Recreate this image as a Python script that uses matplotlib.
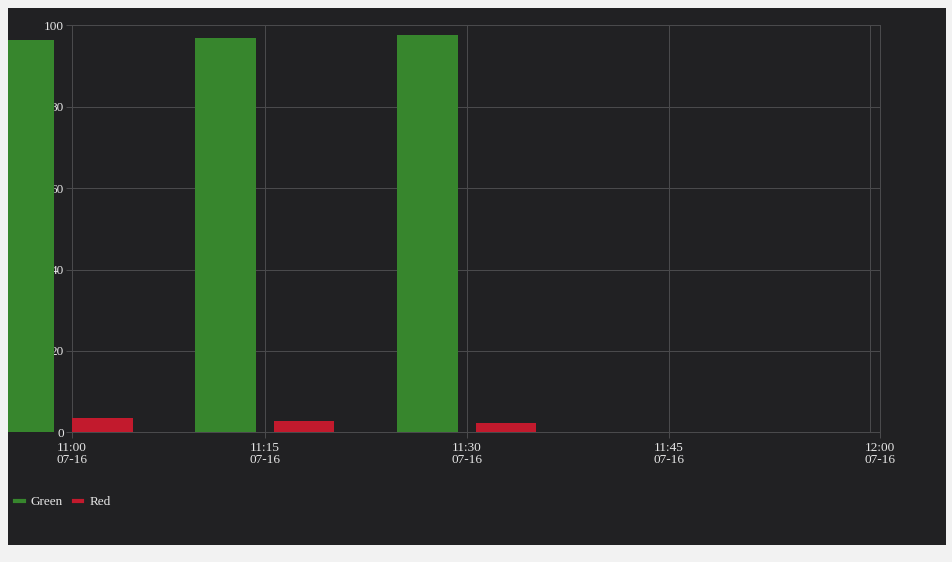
import matplotlib
matplotlib.use('Agg')
import matplotlib.pyplot as plt
from matplotlib.patches import Rectangle
from matplotlib.lines import Line2D

# minutes after 11:00 (07-16)
green_t = [-2.92, 12.08, 27.06]
green_v = [96.4, 97.0, 97.7]
red_t = [2.92, 17.9, 32.9]
red_v = [3.5, 2.85, 2.2]
bar_w = 4.5

tick_pos = [15, 30, 45]
tick_lab = ['11:00\n07-16', '11:15\n07-16', '11:30\n07-16', '11:45\n07-16', '12:00\n07-16']
y_ticks = [0, 20, 40, 60, 80, 100]

W, H = 953, 562
bg = '#212123'
grid_c = '#4a4a4c'
txt_c = '#e6e6e6'
green_c = '#37862d'
red_c = '#c21a2d'

plt.rcParams['font.family'] = ['Liberation Serif', 'DejaVu Serif']

fig = plt.figure(figsize=(W / 100, H / 100), dpi=100)
fig.patch.set_facecolor('#f2f2f2')
panel = (8 / W, 1 - 545 / H), 938 / W, 537 / H
fig.patches.append(Rectangle(*panel, transform=fig.transFigure, facecolor=bg,
                             edgecolor='none', zorder=-1))

left, right, top, bottom = 71.7, 880.3, 25.3, 432.3
ax = fig.add_axes([left / W, 1 - bottom / H, (right - left) / W, (bottom - top) / H])
ax.set_facecolor(bg)

x0, x1 = 0.63, 60.74
ax.set_xlim(x0, x1)
ax.set_ylim(0, 100)

# bars spill over the left edge like the original, clipped to the dark panel
gb = ax.bar(green_t, green_v, width=bar_w, color=green_c, zorder=3)
rb = ax.bar(red_t, red_v, width=bar_w, color=red_c, zorder=3)
for p in list(gb) + list(rb):
    p.set_clip_path(Rectangle(*panel, transform=fig.transFigure))
    p.set_clip_on(True)

for y in y_ticks[1:]:
    ax.axhline(y, color=grid_c, lw=0.75, zorder=1)
for x in tick_pos + [60]:
    ax.axvline(x, color=grid_c, lw=0.75, zorder=1)

for s in ax.spines.values():
    s.set_color(grid_c)
    s.set_linewidth(0.75)

ax.set_xticks([x0] + tick_pos + [x1])
ax.set_xticklabels(tick_lab)
ax.set_yticks(y_ticks)
ax.tick_params(colors=grid_c, labelcolor=txt_c, labelsize=9.5, length=4.3, width=0.75)
ax.tick_params(axis='x', pad=2.5)
ax.tick_params(axis='y', pad=1.5)
for lab in ax.get_xticklabels():
    lab.set_linespacing(1.0)

handles = [Line2D([], [], color=green_c, lw=3), Line2D([], [], color=red_c, lw=3)]
leg = fig.legend(handles, ['Green', 'Red'], loc='center left',
                 bbox_to_anchor=(15 / W, 1 - 502 / H), ncol=2, frameon=False,
                 borderaxespad=0, borderpad=0,
                 handlelength=0.65, handletextpad=0.55, columnspacing=0.8,
                 fontsize=9.5, labelcolor=txt_c)

fig.savefig('out.png', dpi=100, facecolor=fig.get_facecolor())
